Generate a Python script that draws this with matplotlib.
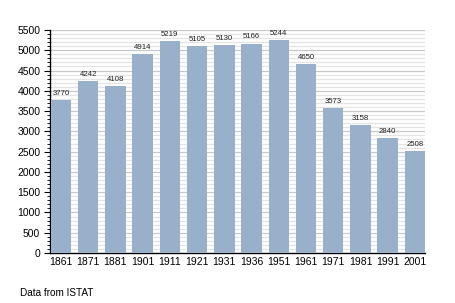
import numpy as np
import matplotlib.pyplot as plt
from matplotlib.ticker import MultipleLocator

plt.rcParams['font.family'] = ['Liberation Sans', 'DejaVu Sans']

years = ['1861', '1871', '1881', '1901', '1911', '1921', '1931',
         '1936', '1951', '1961', '1971', '1981', '1991', '2001']
population = [3770, 4242, 4108, 4914, 5219, 5105, 5130,
              5166, 5244, 4650, 3573, 3158, 2840, 2508]

fig = plt.figure(figsize=(4.55, 3.03), dpi=100)
ax = fig.add_axes([50 / 455, 1 - 253 / 303, 375 / 455, 223 / 303])

x = np.arange(len(years))
ax.bar(x, population, width=0.75, color='#98b0c9', zorder=3)

for xi, v in zip(x, population):
    ax.text(xi, v + 80, str(v), ha='center', va='bottom', fontsize=5.6,
            color='#222222', zorder=4)

ax.set_xlim(-0.4, 13.37)
ax.set_ylim(0, 5500)
ax.yaxis.set_major_locator(MultipleLocator(500))
ax.yaxis.set_minor_locator(MultipleLocator(100))
ax.grid(axis='y', which='major', color='#c8c8c8', linewidth=0.9, zorder=0)
ax.grid(axis='y', which='minor', color='#e4e4e4', linewidth=0.9, zorder=0)

ax.set_xticks(x)
ax.set_xticklabels(years)
ax.tick_params(axis='x', length=0, labelsize=7.5, pad=3)
ax.tick_params(axis='y', which='major', length=4, width=0.8, labelsize=7.5, pad=3)
ax.tick_params(axis='y', which='minor', length=2, width=0.6)

for side in ['top', 'right']:
    ax.spines[side].set_visible(False)
ax.spines['left'].set_linewidth(1.0)
ax.spines['bottom'].set_linewidth(1.0)

fig.text(20.5 / 455, 1 - 292.5 / 303, 'Data from ISTAT', fontsize=7.2,
         ha='left', va='center')

fig.savefig('out.png', dpi=100)
